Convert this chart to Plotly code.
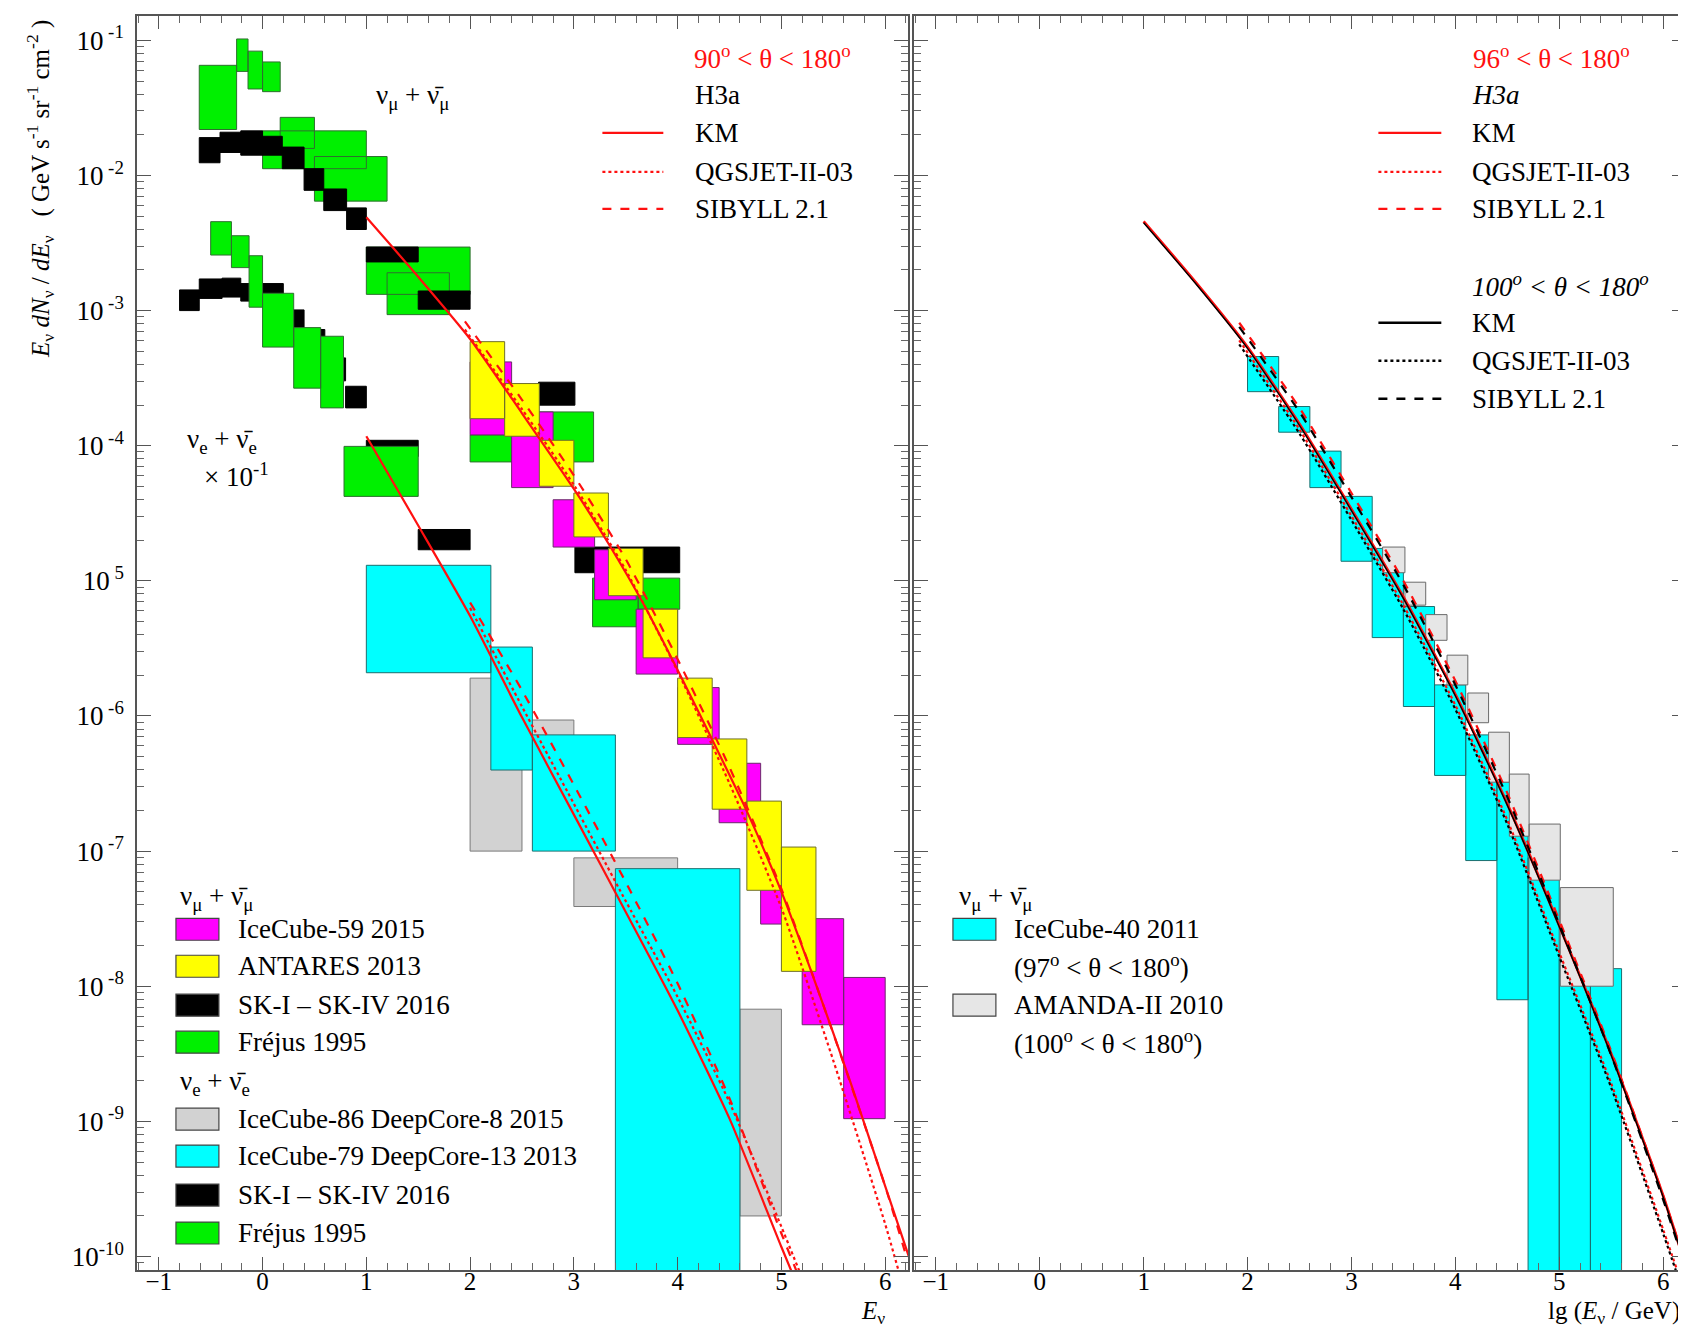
import plotly.graph_objects as go

# ---------------- DATA (x = lg(E/GeV), y values given as lg of flux) ----------------
# ---- left panel: nu_mu + anti nu_mu ----
FREJUS_MU_X0 = [-0.61, -0.25, -0.14, 0.00, 0.17, 0.00, 0.50, 1.00, 1.20, 2.00, 2.66, 3.18, 3.62]
FREJUS_MU_X1 = [-0.25, -0.14, 0.00, 0.17, 0.50, 1.00, 1.20, 2.00, 1.80, 2.66, 3.19, 3.62, 4.02]
FREJUS_MU_LO = [-1.66, -1.23, -1.36, -1.38, -1.80, -1.95, -2.19, -2.88, -3.03, -4.12, -4.12, -5.34, -5.21]
FREJUS_MU_HI = [-1.185, -0.99, -1.08, -1.16, -1.57, -1.67, -1.86, -2.53, -2.72, -3.92, -3.75, -4.98, -4.98]

SK_MU_X0 = [-0.61, -0.41, -0.21, 0.00, 0.19, 0.40, 0.59, 0.81, 1.00, 1.50, 2.66, 3.01]
SK_MU_X1 = [-0.41, -0.21, 0.00, 0.19, 0.40, 0.59, 0.81, 1.00, 1.50, 2.00, 3.01, 4.02]
SK_MU_LO = [-1.906, -1.83, -1.85, -1.85, -1.95, -2.11, -2.26, -2.40, -2.64, -2.99, -3.70, -4.94]
SK_MU_HI = [-1.72, -1.68, -1.67, -1.71, -1.79, -1.95, -2.10, -2.24, -2.53, -2.855, -3.53, -4.75]

IC59_X0 = [2.0, 2.4, 2.8, 3.2, 3.6, 4.0, 4.4, 4.8, 5.2, 5.6]
IC59_X1 = [2.4, 2.8, 3.2, 3.6, 4.0, 4.4, 4.8, 5.2, 5.6, 6.0]
IC59_LO = [-3.92, -4.31, -4.75, -5.14, -5.69, -6.21, -6.79, -7.54, -8.285, -8.98]
IC59_HI = [-3.38, -3.75, -4.40, -4.77, -5.21, -5.79, -6.35, -7.05, -7.50, -7.935]

ANT_X0 = [2.0, 2.333, 2.667, 3.0, 3.333, 3.667, 4.0, 4.333, 4.667, 5.0]
ANT_X1 = [2.333, 2.667, 3.0, 3.333, 3.667, 4.0, 4.333, 4.667, 5.0, 5.333]
ANT_LO = [-3.80, -3.93, -4.30, -4.675, -5.11, -5.57, -6.16, -6.69, -7.29, -7.89]
ANT_HI = [-3.23, -3.54, -3.96, -4.35, -4.76, -5.21, -5.72, -6.17, -6.63, -6.97]

# ---- left panel: nu_e + anti nu_e (x 10^-1) ----
IC86_X0 = [2.0, 2.5, 3.0, 4.6]
IC86_X1 = [2.5, 3.0, 4.0, 5.0]
IC86_LO = [-7.00, -6.30, -7.41, -9.70]
IC86_HI = [-5.72, -6.03, -7.05, -8.17]

IC79_X0 = [1.0, 2.2, 2.6, 3.4]
IC79_X1 = [2.2, 2.6, 3.4, 4.6]
IC79_LO = [-5.68, -6.40, -7.00, -11.0]
IC79_HI = [-4.885, -5.49, -6.14, -7.13]

SK_E_X0 = [-0.80, -0.61, -0.39, -0.21, 0.00, 0.20, 0.40, 0.60, 0.80, 1.00, 1.50]
SK_E_X1 = [-0.61, -0.39, -0.21, 0.00, 0.20, 0.40, 0.60, 0.80, 1.00, 1.50, 2.00]
SK_E_LO = [-3.00, -2.91, -2.90, -2.93, -2.93, -3.13, -3.30, -3.52, -3.72, -4.08, -4.77]
SK_E_HI = [-2.847, -2.766, -2.76, -2.80, -2.80, -2.995, -3.14, -3.35, -3.56, -3.96, -4.62]

FREJUS_E_X0 = [-0.50, -0.30, -0.13, 0.00, 0.30, 0.56, 0.785]
FREJUS_E_X1 = [-0.30, -0.13, 0.00, 0.30, 0.56, 0.78, 1.50]
FREJUS_E_LO = [-2.589, -2.682, -2.975, -3.27, -3.574, -3.72, -4.375]
FREJUS_E_HI = [-2.342, -2.446, -2.594, -2.872, -3.126, -3.19, -4.005]

# ---- left panel model curves (H3a, 90-180 deg) ----
NUMU_KM_X = [1.0, 1.5, 2.0, 2.5, 3.0, 3.33, 3.67, 4.0, 4.33, 4.67, 5.0, 5.33, 5.67, 6.0, 6.25]
NUMU_KM_LG = [-2.31, -2.75, -3.21, -3.76, -4.32, -4.72, -5.17, -5.66, -6.17, -6.71, -7.30, -7.98, -8.72, -9.48, -10.05]
NUMU_QG_X = [1.95, 2.5, 3.0, 3.5, 4.0, 4.5, 5.0, 5.5, 6.0, 6.2]
NUMU_QG_LG = [-3.14, -3.73, -4.29, -4.92, -5.67, -6.50, -7.42, -8.55, -9.76, -10.3]
NUMU_SIB_X = [1.95, 2.5, 3.0, 3.5, 4.0, 4.5, 5.0, 5.5, 6.0, 6.2]
NUMU_SIB_LG = [-3.08, -3.66, -4.22, -4.84, -5.58, -6.38, -7.28, -8.35, -9.48, -9.99]

NUE_KM_X = [1.0, 1.5, 2.0, 2.5, 3.0, 3.5, 4.0, 4.5, 5.0, 5.2]
NUE_KM_LG = [-3.93, -4.59, -5.26, -6.01, -6.73, -7.45, -8.18, -8.98, -9.93, -10.3]
NUE_QG_X = [2.0, 2.5, 3.0, 3.5, 4.0, 4.5, 5.0, 5.3]
NUE_QG_LG = [-5.20, -5.93, -6.65, -7.37, -8.08, -8.86, -9.78, -10.35]
NUE_SIB_X = [2.0, 2.5, 3.0, 3.5, 4.0, 4.5, 5.0, 5.3]
NUE_SIB_LG = [-5.16, -5.81, -6.51, -7.23, -7.98, -8.83, -9.83, -10.4]

# ---- right panel ----
IC40_X0 = [2.0, 2.3, 2.6, 2.9, 3.2, 3.5, 3.8, 4.1, 4.4, 4.7, 5.0, 5.3]
IC40_X1 = [2.3, 2.6, 2.9, 3.2, 3.5, 3.8, 4.1, 4.4, 4.7, 5.0, 5.3, 5.6]
IC40_LO = [-3.60, -3.90, -4.31, -4.855, -5.42, -5.93, -6.44, -7.07, -8.10, -11.0, -11.0, -11.0]
IC40_HI = [-3.34, -3.71, -4.04, -4.375, -4.76, -5.19, -5.77, -6.14, -6.49, -7.05, -7.80, -7.87]

AMANDA_X0 = [3.30, 3.515, 3.715, 3.92, 4.12, 4.32, 4.52, 4.71, 5.01]
AMANDA_X1 = [3.515, 3.715, 3.92, 4.12, 4.32, 4.52, 4.71, 5.01, 5.52]
AMANDA_LO = [-4.94, -5.18, -5.44, -5.77, -6.05, -6.49, -6.89, -7.215, -8.00]
AMANDA_HI = [-4.75, -5.01, -5.25, -5.55, -5.83, -6.12, -6.43, -6.80, -7.27]

R_KM_X = [1.0, 1.5, 2.0, 2.5, 3.0, 3.5, 4.0, 4.5, 5.0, 5.5, 6.0, 6.25]
R_KM_RED = [-2.34, -2.79, -3.27, -3.84, -4.47, -5.12, -5.84, -6.65, -7.55, -8.50, -9.55, -10.15]
R_KM_BLK = [-2.35, -2.80, -3.28, -3.85, -4.48, -5.13, -5.85, -6.66, -7.56, -8.51, -9.56, -10.16]
R_MOD_X = [1.92, 2.5, 3.0, 3.5, 4.0, 4.5, 5.0, 5.5, 6.0, 6.2]
R_QG_RED = [-3.22, -3.88, -4.52, -5.18, -5.92, -6.77, -7.75, -8.72, -9.80, -10.25]
R_QG_BLK = [-3.25, -3.91, -4.55, -5.21, -5.95, -6.80, -7.78, -8.75, -9.83, -10.28]
R_SIB_RED = [-3.09, -3.72, -4.35, -5.00, -5.74, -6.57, -7.51, -8.48, -9.55, -10.02]
R_SIB_BLK = [-3.12, -3.75, -4.38, -5.03, -5.77, -6.60, -7.54, -8.51, -9.58, -10.05]

X_TICKS = [-1, 0, 1, 2, 3, 4, 5, 6]
Y_DECADES = [-1, -2, -3, -4, -5, -6, -7, -8, -9, -10]
Y_TICK_TEXT = ["10<sup> -1</sup>", "10<sup> -2</sup>", "10<sup> -3</sup>", "10<sup> -4</sup>", "10<sup> 5</sup>",
               "10<sup> -6</sup>", "10<sup> -7</sup>", "10<sup> -8</sup>", "10<sup> -9</sup>", "10<sup>-10</sup>"]

# ---------------- STYLE ----------------
FONT = "Liberation Serif, Times New Roman, serif"
RED = "#ff1010"
C_MAG, C_YEL, C_BLK, C_GRN = "#ff00ff", "#ffff00", "#000000", "#00f000"
C_GRAY_L, C_CYAN, C_GRAY_R = "#d2d2d2", "#00ffff", "#e6e6e6"

W, H = 1686, 1334
L, R, T, B = 129, 1680, 7, 1262
PW, PH = R - L, B - T


def P(px, py):
    return (px - L) / PW, (B - py) / PH


def boxes(x0, x1, lo, hi, color, edge, xa, ya, name):
    xs, ys = [], []
    for a, b, l, h in zip(x0, x1, lo, hi):
        yl, yh = 10 ** l, 10 ** h
        xs += [a, b, b, a, a, None]
        ys += [yl, yl, yh, yh, yl, None]
    return go.Scatter(x=xs, y=ys, mode="lines", fill="toself", fillcolor=color,
                      line=dict(color=edge, width=1), xaxis=xa, yaxis=ya,
                      name=name, showlegend=False, hoverinfo="skip")


def curve(x, lg, color, dash, xa, ya, width=2.2):
    return go.Scatter(x=x, y=[10 ** v for v in lg], mode="lines",
                      line=dict(color=color, dash=dash, width=width, shape="spline", smoothing=0.6),
                      xaxis=xa, yaxis=ya, showlegend=False, hoverinfo="skip")


fig = go.Figure()
# left panel boxes (draw order matters)
fig.add_trace(boxes(IC86_X0, IC86_X1, IC86_LO, IC86_HI, C_GRAY_L, "#7a7a7a", "x", "y", "IceCube-86"))
fig.add_trace(boxes(IC79_X0, IC79_X1, IC79_LO, IC79_HI, C_CYAN, "#1c6f6f", "x", "y", "IceCube-79"))
fig.add_trace(boxes(SK_E_X0, SK_E_X1, SK_E_LO, SK_E_HI, C_BLK, "#000000", "x", "y", "SK e"))
fig.add_trace(boxes(FREJUS_E_X0, FREJUS_E_X1, FREJUS_E_LO, FREJUS_E_HI, C_GRN, "#2f6f2f", "x", "y", "Frejus e"))
fig.add_trace(boxes(FREJUS_MU_X0, FREJUS_MU_X1, FREJUS_MU_LO, FREJUS_MU_HI, C_GRN, "#2f6f2f", "x", "y", "Frejus mu"))
fig.add_trace(boxes(SK_MU_X0, SK_MU_X1, SK_MU_LO, SK_MU_HI, C_BLK, "#000000", "x", "y", "SK mu"))
fig.add_trace(boxes(IC59_X0, IC59_X1, IC59_LO, IC59_HI, C_MAG, "#6a2a6a", "x", "y", "IceCube-59"))
fig.add_trace(boxes(ANT_X0, ANT_X1, ANT_LO, ANT_HI, C_YEL, "#6f6f2a", "x", "y", "ANTARES"))
# left curves
fig.add_trace(curve(NUMU_KM_X, NUMU_KM_LG, RED, "solid", "x", "y"))
fig.add_trace(curve(NUMU_QG_X, NUMU_QG_LG, RED, "dot", "x", "y"))
fig.add_trace(curve(NUMU_SIB_X, NUMU_SIB_LG, RED, "dash", "x", "y"))
fig.add_trace(curve(NUE_KM_X, NUE_KM_LG, RED, "solid", "x", "y"))
fig.add_trace(curve(NUE_QG_X, NUE_QG_LG, RED, "dot", "x", "y"))
fig.add_trace(curve(NUE_SIB_X, NUE_SIB_LG, RED, "dash", "x", "y"))
# right panel
fig.add_trace(boxes(IC40_X0, IC40_X1, IC40_LO, IC40_HI, C_CYAN, "#1c6f6f", "x2", "y2", "IceCube-40"))
fig.add_trace(boxes(AMANDA_X0, AMANDA_X1, AMANDA_LO, AMANDA_HI, C_GRAY_R, "#6a6a6a", "x2", "y2", "AMANDA-II"))
fig.add_trace(curve(R_KM_X, R_KM_RED, RED, "solid", "x2", "y2", 2.8))
fig.add_trace(curve(R_MOD_X, R_QG_RED, RED, "dot", "x2", "y2"))
fig.add_trace(curve(R_MOD_X, R_SIB_RED, RED, "dash", "x2", "y2"))
fig.add_trace(curve(R_KM_X, R_KM_BLK, "#000000", "solid", "x2", "y2", 1.4))
fig.add_trace(curve(R_MOD_X, R_QG_BLK, "#000000", "dot", "x2", "y2"))
fig.add_trace(curve(R_MOD_X, R_SIB_BLK, "#000000", "dash", "x2", "y2"))

# ---------------- AXES ----------------
x_minor = [v / 10 for v in range(-12, 63, 2)]
y_minor = [m * 10 ** d for d in range(-11, 0) for m in range(2, 10)]
xcommon = dict(range=[-1.21, 6.22], tickvals=X_TICKS, ticks="inside", ticklen=13, tickwidth=1.2,
               tickcolor="#555", showline=True, linecolor="#555", linewidth=1.5, mirror="allticks",
               showgrid=False, zeroline=False, ticklabelstandoff=-12,
               tickfont=dict(family=FONT, size=25, color="black"),
               minor=dict(tickvals=x_minor, ticks="inside", ticklen=7, tickcolor="#666", tickwidth=1))
ycommon = dict(type="log", range=[-10.1, -0.82], tickvals=[10 ** d for d in Y_DECADES], ticks="inside",
               ticklen=14, tickwidth=1.2, tickcolor="#555", showline=True, linecolor="#555", linewidth=1.5,
               mirror="allticks", showgrid=False, zeroline=False,
               minor=dict(tickvals=y_minor, ticks="inside", ticklen=7, tickcolor="#666", tickwidth=1))
fig.update_layout(
    width=W, height=H, paper_bgcolor="white", plot_bgcolor="white",
    margin=dict(l=L, r=W - R, t=T, b=H - B),
    xaxis=dict(domain=[0, (901 - L) / PW], anchor="y", **xcommon),
    xaxis2=dict(domain=[(907 - L) / PW, 1.0], anchor="y2", **xcommon),
    yaxis=dict(domain=[0, 1], anchor="x", ticktext=Y_TICK_TEXT, ticklabelstandoff=6,
               tickfont=dict(family=FONT, size=27, color="black"), **ycommon),
    yaxis2=dict(domain=[0, 1], anchor="x2", showticklabels=False, **ycommon),
    showlegend=False,
)

ann = []
shapes = []


def text(px, py, s, size=26, color="black", xanchor="left", angle=0):
    x, y = P(px, py)
    ann.append(dict(x=x, y=y, xref="paper", yref="paper", text=s, showarrow=False,
                    xanchor=xanchor, yanchor="middle", textangle=angle,
                    font=dict(family=FONT, size=size, color=color)))


def lsample(px0, px1, py, color, dash):
    x0, y0 = P(px0, py)
    x1, _ = P(px1, py)
    shapes.append(dict(type="line", xref="paper", yref="paper", x0=x0, x1=x1, y0=y0, y1=y0,
                       line=dict(color=color, width=2.4, dash=dash)))


def bsample(px0, px1, pyc, color, edge="#444"):
    x0, y0 = P(px0, pyc + 11)
    x1, y1 = P(px1, pyc - 11)
    shapes.append(dict(type="rect", xref="paper", yref="paper", x0=x0, x1=x1, y0=y0, y1=y1,
                       fillcolor=color, line=dict(color=edge, width=1.2)))


NUMU_TXT = "ν<sub>μ</sub> + ν\u0304<sub>μ</sub>"
NUE_TXT = "ν<sub>e</sub> + ν\u0304<sub>e</sub>"

# left top legend
text(685, 48, "90<sup>o</sup> < θ < 180<sup>o</sup>", 27, RED)
text(686, 86, "H3a", 27)
for py, lab, dash in [(124, "KM", "solid"), (163, "QGSJET-II-03", "dot"), (200, "SIBYLL 2.1", "dash")]:
    lsample(595, 656, py, RED, dash)
    text(686, py, lab, 27)
text(366, 88, NUMU_TXT, 27)
text(177, 432, NUE_TXT, 27)
text(194, 466, "× 10<sup>-1</sup>", 27)

# right top legend
text(1465, 48, "96<sup>o</sup> < θ < 180<sup>o</sup>", 27, RED)
text(1464, 86, "<i>H3a</i>", 27)
for py, lab, dash in [(124, "KM", "solid"), (163, "QGSJET-II-03", "dot"), (200, "SIBYLL 2.1", "dash")]:
    lsample(1372, 1435, py, RED, dash)
    text(1464, py, lab, 27)
text(1464, 276, "<i>100<sup>o</sup> < θ < 180<sup>o</sup></i>", 27)
for py, lab, dash in [(314, "KM", "solid"), (352, "QGSJET-II-03", "dot"), (390, "SIBYLL 2.1", "dash")]:
    lsample(1372, 1435, py, "black", dash)
    text(1464, py, lab, 27)

# left bottom legend
text(170, 890, NUMU_TXT, 27)
for py, col, lab in [(921, C_MAG, "IceCube-59 2015"), (958, C_YEL, "ANTARES 2013"),
                     (997, C_BLK, "SK-I – SK-IV 2016"), (1034, C_GRN, "Fréjus 1995")]:
    bsample(168, 211, py, col)
    text(228, py, lab, 27)
text(170, 1075, NUE_TXT, 27)
for py, col, lab in [(1111, C_GRAY_L, "IceCube-86 DeepCore-8 2015"), (1148, C_CYAN, "IceCube-79 DeepCore-13 2013"),
                     (1187, C_BLK, "SK-I – SK-IV 2016"), (1225, C_GRN, "Fréjus 1995")]:
    bsample(168, 211, py, col)
    text(228, py, lab, 27)

# right bottom legend
text(950, 890, NUMU_TXT, 27)
bsample(946, 989, 921, C_CYAN)
text(1005, 921, "IceCube-40 2011", 27)
text(1005, 958, "(97<sup>o</sup> < θ < 180<sup>o</sup>)", 27)
bsample(946, 989, 997, C_GRAY_R)
text(1005, 997, "AMANDA-II 2010", 27)
text(1005, 1034, "(100<sup>o</sup> < θ < 180<sup>o</sup>)", 27)

# axis titles
text(880, 1305, "<i>E</i><sub>ν</sub>", 25, xanchor="right")
text(1676, 1305, "lg (<i>E</i><sub>ν</sub> / GeV)", 25, xanchor="right")
text(32, 180, "<i>E</i><sub>ν</sub> <i>dN</i><sub>ν</sub> / <i>dE</i><sub>ν</sub>   "
     "( GeV s<sup>-1</sup> sr<sup>-1</sup> cm<sup>-2</sup> )", 25, xanchor="center", angle=-90)

fig.update_layout(annotations=ann, shapes=shapes)
fig.write_html("out.html")
